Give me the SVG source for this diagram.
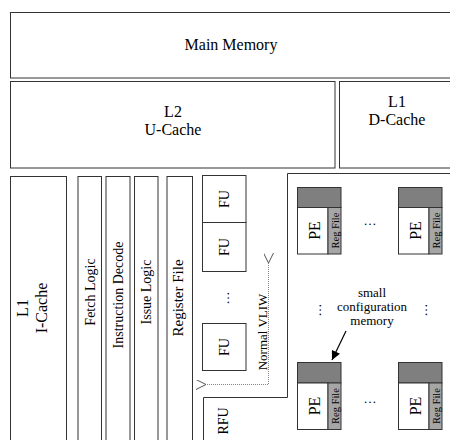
<svg xmlns="http://www.w3.org/2000/svg" width="450" height="440" viewBox="0 0 450 440" font-family="'Liberation Serif', 'Times New Roman', 'DejaVu Serif', serif">
<defs>
<style>
.box{fill:#fff;stroke:#333;stroke-width:1}
.t{font-family:'Liberation Serif','Times New Roman','DejaVu Serif',serif;fill:#000;text-anchor:middle}
.big{font-size:16px}
.mid{font-size:14px}
.sm{font-size:13px}
.rf{font-size:10.5px}
.hdr{fill:#7f7f7f;stroke:#333;stroke-width:1}
.reg{fill:#a6a6a6;stroke:#333;stroke-width:1}
.dot{fill:none;stroke:#888;stroke-width:1;stroke-dasharray:1 1}
</style>
<marker id="chev" viewBox="0 0 10 10" refX="0" refY="5" markerWidth="10" markerHeight="10" markerUnits="userSpaceOnUse" orient="auto-start-reverse">
<path d="M10,0 L0,5 L10,10" fill="none" stroke="#555" stroke-width="1"/>
</marker>
<marker id="tri" viewBox="0 0 10 10" refX="10" refY="5" markerWidth="10" markerHeight="9" markerUnits="userSpaceOnUse" orient="auto">
<path d="M0,0 L10,5 L0,10 Z" fill="#000"/>
</marker>
</defs>
<rect width="450" height="440" fill="#fff"/>

<g id="main-memory">
<rect class="box" x="10.5" y="12.5" width="445" height="65.5"/>
<text class="t big" x="231" y="50">Main Memory</text>
</g>
<g id="l2-ucache">
<rect class="box" x="10.5" y="81.5" width="324.5" height="86.5"/>
<text class="t big" x="173" y="117">L2</text>
<text class="t big" x="173" y="135">U-Cache</text>
</g>
<g id="l1-dcache">
<rect class="box" x="339.5" y="81.5" width="120" height="86.5"/>
<text class="t big" x="397" y="107">L1</text>
<text class="t big" x="397" y="125">D-Cache</text>
</g>

<g id="l1-icache">
<rect class="box" x="10.5" y="176.5" width="56" height="280"/>
<text class="t big" transform="translate(28,308) rotate(-90)">L1</text>
<text class="t big" transform="translate(46.5,308) rotate(-90)">I-Cache</text>
</g>
<g id="fetch-logic">
<rect class="box" x="78" y="176.5" width="23.5" height="280"/>
<text class="t mid" transform="translate(95,292) rotate(-90)">Fetch Logic</text>
</g>
<g id="instruction-decode">
<rect class="box" x="106" y="176.5" width="24" height="280"/>
<text class="t mid" transform="translate(123,295) rotate(-90)">Instruction Decode</text>
</g>
<g id="issue-logic">
<rect class="box" x="134.5" y="176.5" width="23.5" height="280"/>
<text class="t mid" transform="translate(151,292) rotate(-90)">Issue Logic</text>
</g>
<g id="register-file">
<rect class="box" x="167" y="176.5" width="25.5" height="280"/>
<text class="t" font-size="15" transform="translate(182.5,298) rotate(-90)">Register File</text>
</g>

<g id="fu1">
<rect class="box" x="202.5" y="175.5" width="43.5" height="47"/>
<text class="t mid" transform="translate(229,199) rotate(-90)">FU</text>
</g>
<g id="fu2">
<rect class="box" x="202.5" y="222.5" width="43.5" height="49"/>
<text class="t mid" transform="translate(229,247) rotate(-90)">FU</text>
</g>
<text class="t sm" transform="translate(229,298) rotate(-90)">…</text>
<g id="fu3">
<rect class="box" x="202.5" y="323.5" width="43.5" height="47"/>
<text class="t mid" transform="translate(229,347) rotate(-90)">FU</text>
</g>

<g id="rfu">
<path d="M203.5,445 V397.5 H287.5 V173.5 H460" fill="none" stroke="#333" stroke-width="1"/>
<text class="t mid" transform="translate(228,421) rotate(-90)">RFU</text>
</g>

<g id="pe-tl">
<rect class="hdr" x="297.5" y="187.5" width="43.5" height="20"/>
<rect class="box" x="297.5" y="207.5" width="30.5" height="46.5"/>
<rect class="reg" x="328" y="207.5" width="13" height="46.5"/>
<text class="t big" transform="translate(320,230.5) rotate(-90)">PE</text>
<text class="t rf" transform="translate(338.5,230.5) rotate(-90)">Reg File</text>
</g>
<g id="pe-tr">
<rect class="hdr" x="398.5" y="187.5" width="43.5" height="20"/>
<rect class="box" x="398.5" y="207.5" width="30.5" height="46.5"/>
<rect class="reg" x="429" y="207.5" width="13" height="46.5"/>
<text class="t big" transform="translate(421,230.5) rotate(-90)">PE</text>
<text class="t rf" transform="translate(439.5,230.5) rotate(-90)">Reg File</text>
</g>
<g id="pe-bl">
<rect class="hdr" x="297.5" y="362.5" width="43.5" height="20.5"/>
<rect class="box" x="297.5" y="383" width="30.5" height="46.5"/>
<rect class="reg" x="328" y="383" width="13" height="46.5"/>
<text class="t big" transform="translate(320,406) rotate(-90)">PE</text>
<text class="t rf" transform="translate(338.5,406) rotate(-90)">Reg File</text>
</g>
<g id="pe-br">
<rect class="hdr" x="398.5" y="362.5" width="43.5" height="20.5"/>
<rect class="box" x="398.5" y="383" width="30.5" height="46.5"/>
<rect class="reg" x="429" y="383" width="13" height="46.5"/>
<text class="t big" transform="translate(421,406) rotate(-90)">PE</text>
<text class="t rf" transform="translate(439.5,406) rotate(-90)">Reg File</text>
</g>

<text class="t sm" x="370" y="225">…</text>
<text class="t sm" x="370" y="403">…</text>
<text class="t sm" transform="translate(321,310) rotate(-90)">…</text>
<text class="t sm" transform="translate(427,310) rotate(-90)">…</text>

<g id="config-label">
<text class="t sm" x="372" y="297">small</text>
<text class="t sm" x="372" y="311">configuration</text>
<text class="t sm" x="372" y="325">memory</text>
</g>

<g id="connectors">
<path class="dot" d="M268.5,263 V384.5 H206" marker-start="url(#chev)" marker-end="url(#chev)"/>
<line x1="346" y1="331" x2="332" y2="360" stroke="#000" stroke-width="1.2" marker-end="url(#tri)"/>
</g>
<text class="t sm" transform="translate(267,332) rotate(-90)">Normal VLIW</text>
</svg>
